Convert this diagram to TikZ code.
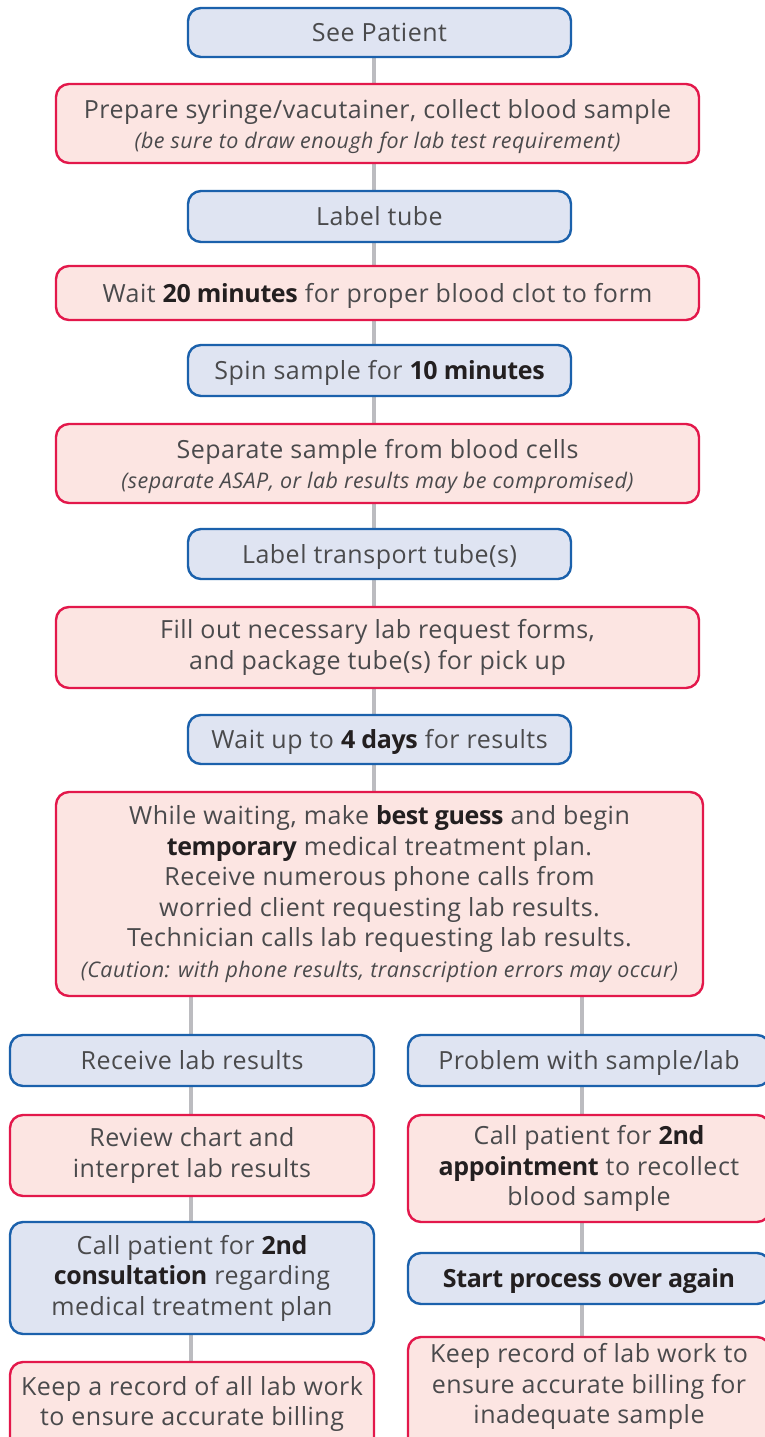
\documentclass[tikz,border=0pt]{standalone}
\usepackage{fontspec}
\setmainfont{Open Sans}[LetterSpace=2.0, BoldFeatures={LetterSpace=-1.5}]
\usetikzlibrary{backgrounds}
\definecolor{bfill}{HTML}{DFE4F2}
\definecolor{bdraw}{HTML}{1B61AC}
\definecolor{rfill}{HTML}{FCE5E2}
\definecolor{rdraw}{HTML}{E3184B}
\definecolor{txt}{HTML}{4A4A4C}
\definecolor{bld}{HTML}{231F20}
\definecolor{conn}{HTML}{BCBCC0}
\newcommand{\bt}[1]{{\bfseries\color{bld}#1}}
\newcommand{\nt}[1]{{\fontsize{21.5}{32}\selectfont\itshape #1}}
\newcommand{\topstrut}{\rule{0pt}{25pt}}
\tikzset{
  box/.style={rounded corners=13pt, line width=2.4pt, align=center, text=txt,
    inner sep=0pt, font=\fontsize{25}{30.5}\selectfont},
  bbox/.style={box, draw=bdraw, fill=bfill},
  rbox/.style={box, draw=rdraw, fill=rfill},
  one/.style={text height=23pt, text depth=5pt},
  conn/.style={draw=conn, line width=4pt}
}
\begin{document}
\begin{tikzpicture}[x=1pt,y=-1pt]
\clip (0,0) rectangle (765,1437);
\coordinate (mx) at (374,0);
\coordinate (lx) at (191,0);
\coordinate (rx) at (582,0);
\node[bbox, one, minimum width=383, minimum height=49] (n1) at (379.5,32.5) {See Patient};
\node[rbox, minimum width=643, minimum height=79] (n2) at (377.5,123.5) {\topstrut Prepare syringe/vacutainer, collect blood sample\\\nt{(be sure to draw enough for lab test requirement)}};
\node[bbox, one, minimum width=383, minimum height=51] (n3) at (379.5,216.5) {Label tube};
\node[rbox, one, minimum width=643, minimum height=54] (n4) at (377.5,293) {Wait \bt{20 minutes} for proper blood clot to form};
\node[bbox, one, minimum width=383, minimum height=51] (n5) at (379.5,370.5) {Spin sample for \bt{10 minutes}};
\node[rbox, minimum width=643, minimum height=79] (n6) at (377.5,463.5) {\topstrut Separate sample from blood cells\\\nt{(separate ASAP, or lab results may be compromised)}};
\node[bbox, one, minimum width=383, minimum height=50] (n7) at (379.5,554) {Label transport tube(s)};
\node[rbox, minimum width=643, minimum height=81] (n8) at (377.5,647.5) {Fill out necessary lab request forms,\\and package tube(s) for pick up};
\node[bbox, one, minimum width=383, minimum height=49] (n9) at (379.5,739.5) {Wait up to \bt{4 days} for results};
\node[rbox, minimum width=647, minimum height=204] (n10) at (379.5,894) {While waiting, make \bt{best guess} and begin\\\bt{temporary} medical treatment plan.\\Receive numerous phone calls from\\worried client requesting lab results.\\Technician calls lab requesting lab results.\\\nt{(Caution: with phone results, transcription errors may occur)}};
\node[bbox, one, minimum width=364, minimum height=51] (l1) at (192,1060.5) {Receive lab results};
\node[bbox, one, minimum width=362, minimum height=51] (r1) at (589,1060.5) {Problem with sample/lab};
\node[rbox, minimum width=364, minimum height=81] (l2) at (192,1155.5) {Review chart and\\interpret lab results};
\node[rbox, minimum width=362, minimum height=107] (r2) at (589,1168.5) {Call patient for \bt{2nd}\\\bt{appointment} to recollect\\blood sample};
\node[bbox, minimum width=364, minimum height=112] (l3) at (192,1278) {Call patient for \bt{2nd}\\\bt{consultation} regarding\\medical treatment plan};
\node[bbox, one, minimum width=362, minimum height=51] (r3) at (589,1278.5) {\bt{Start process over again}};
\node[rbox, minimum width=364, minimum height=96] (l4) at (192,1410) {Keep a record of all lab work\\to ensure accurate billing\\[-12.5pt]};
\node[rbox, minimum width=362, minimum height=120] (r4) at (589,1397) {Keep record of lab work to\\ensure accurate billing for\\inadequate sample\\[-4pt]};
\begin{scope}[on background layer]
\fill[white] (0,0) rectangle (765,1437);
\foreach \a/\b in {n1/n2,n2/n3,n3/n4,n4/n5,n5/n6,n6/n7,n7/n8,n8/n9,n9/n10}
  \draw[conn] (\a.south -| mx) -- (\b.north -| mx);
\draw[conn] (n10.south -| lx) -- (l1.north -| lx);
\draw[conn] (n10.south -| rx) -- (r1.north -| rx);
\foreach \a/\b in {l1/l2,l2/l3,l3/l4}
  \draw[conn] (\a.south -| lx) -- (\b.north -| lx);
\foreach \a/\b in {r1/r2,r2/r3,r3/r4}
  \draw[conn] (\a.south -| rx) -- (\b.north -| rx);
\end{scope}
\end{tikzpicture}
\end{document}
